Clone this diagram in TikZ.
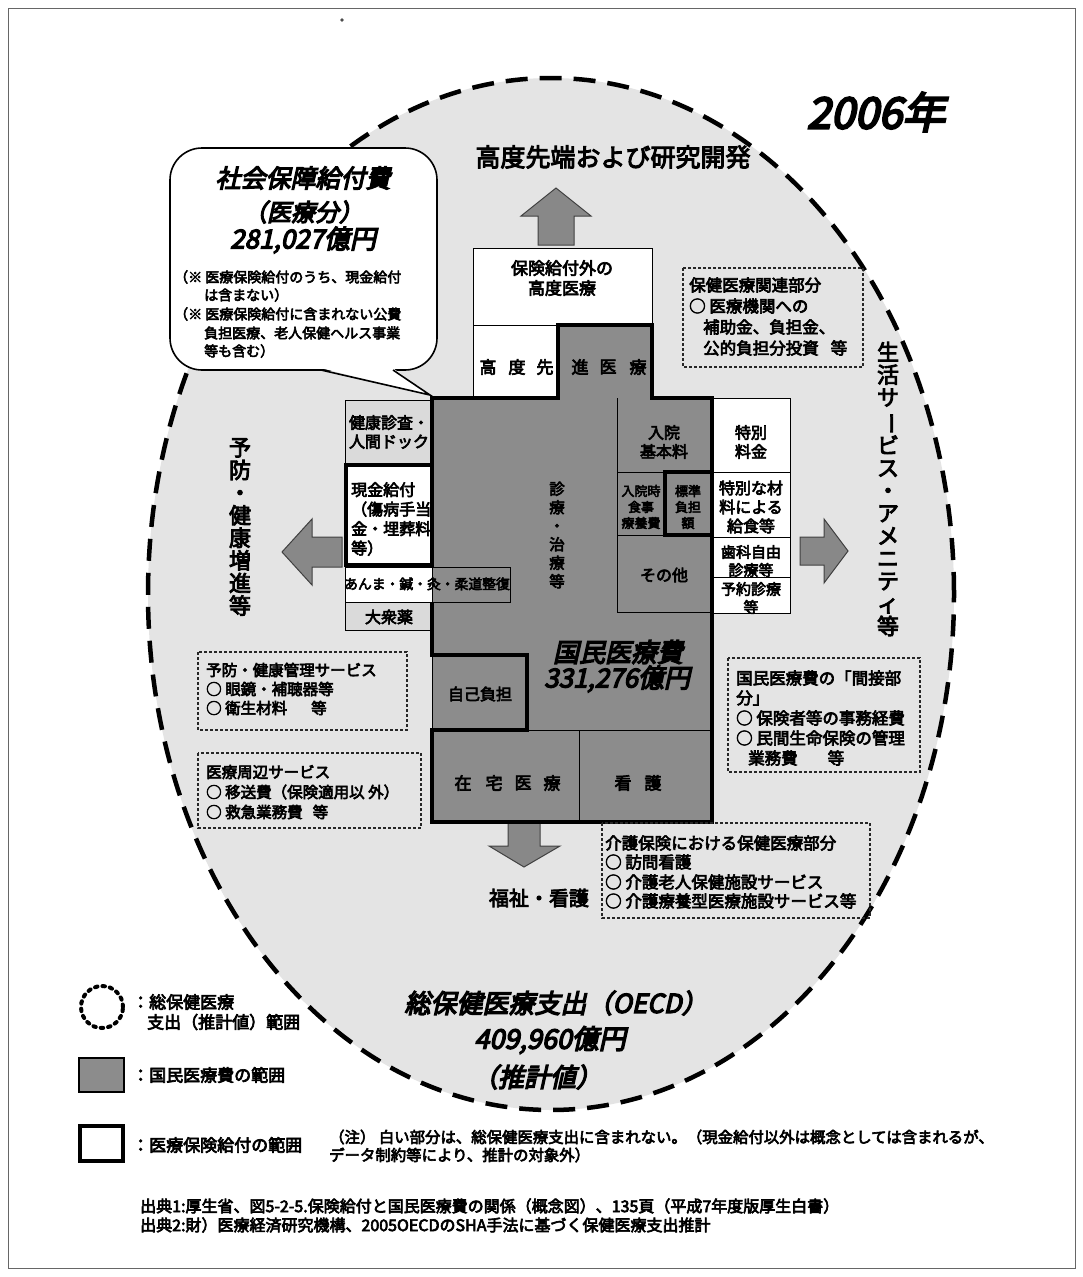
\documentclass[tikz,border=0pt]{standalone}
\usepackage{fontspec}
\newfontfamily\jp[FakeBold=4]{Noto Sans CJK JP}
\newfontfamily\jpi[FakeSlant=0.22,FakeBold=5]{Noto Sans CJK JP}
\definecolor{dk}{HTML}{8C8C8C}
\definecolor{bg}{HTML}{E4E4E4}
\definecolor{lt}{HTML}{DADADA}
\definecolor{arr}{HTML}{888888}
\tikzset{
  thinb/.style={draw=black, line width=0.9},
  thickb/.style={draw=black, line width=3.6},
  dotbox/.style={draw=black!85, dash pattern=on 3pt off 2pt, line width=1.1},
  bigarrow/.style={fill=arr, draw=black!75, line width=1},
  bubble/.style={draw=black, line width=1.6, fill=white},
  t/.style={inner sep=0, align=center, font={\jp\fontsize{#1}{\dimexpr#1pt+3pt\relax}\selectfont}},
  tl/.style={inner sep=0, align=left, anchor=west, font={\jp\fontsize{#1}{\dimexpr#1pt+3.5pt\relax}\selectfont}},
  ti/.style={inner sep=0, align=center, font={\jpi\fontsize{#1}{\dimexpr#1pt+6pt\relax}\selectfont}},
  vt/.style={inner sep=0, align=center, font={\jp\fontsize{22}{22.6}\selectfont}},
}
\begin{document}
\begin{tikzpicture}[x=1pt,y=-1pt]
\useasboundingbox (0,0) rectangle (1082,1277);
\fill[white] (0,0) rectangle (1082,1277);
\draw[black!60, line width=0.8] (8,8) rectangle (1075,1268);
\fill[black!70] (342,20) circle[radius=1.8pt];

% ellipse (total health expenditure)
\fill[bg] (551,594) ellipse [x radius=403pt, y radius=516pt];
\draw[black, line width=4.5, dash pattern=on 22pt off 12pt] (551,594) ellipse [x radius=403pt, y radius=516pt];

% speech bubble
\draw[bubble, rounded corners=32] (170,148) rectangle (437,370);
\fill[white] (321,368.2) -- (430,395) -- (393,368.2) -- cycle;
\draw[black, line width=1.6, line join=miter] (321,370) -- (430,395) -- (393,370);
\node[ti=25] (b1) at (303,178) {社会保障給付費};
\node[ti=24] (b2) at (303,212) {（医療分）};
\node[ti=26] (b3) at (303,240) {281,027億円};
\node[tl=14] (b4) at (174,277) {（※ 医療保険給付のうち、現金給付};
\node[tl=14] (b5) at (204,295) {は含まない）};
\node[tl=14] (b6) at (174,314) {（※ 医療保険給付に含まれない公費};
\node[tl=14] (b7) at (204,333) {負担医療、老人保健ヘルス事業};
\node[tl=14] (b8) at (204,351) {等も含む）};

% year
\node[ti=43] (yr) at (876,112) {2006年};

% big arrows
\filldraw[bigarrow] (556,188) -- (591,216) -- (574,216) -- (574,245) -- (538,245) -- (538,216) -- (521,216) -- cycle;
\filldraw[bigarrow] (282,552) -- (312,519) -- (312,537) -- (342,537) -- (342,567) -- (312,567) -- (312,585) -- cycle;
\filldraw[bigarrow] (848,551) -- (824,519) -- (824,537) -- (800,537) -- (800,565) -- (824,565) -- (824,583) -- cycle;
\filldraw[bigarrow] (524,867) -- (489,846) -- (508,846) -- (508,823) -- (540,823) -- (540,846) -- (560,846) -- cycle;

\node[t=25] (up) at (613,157) {高度先端および研究開発};
\node[t=20] (dn) at (539,898) {福祉・看護};
\node[vt] (lf) at (240,527) {予\\防\\・\\健\\康\\増\\進\\等};
\node[vt] (rt) at (888,489) {生\\活\\サ\\\rotatebox[origin=c]{-90}{ー}\\ビ\\ス\\・\\ア\\メ\\ニ\\テ\\ィ\\等};

% top boxes
\filldraw[thinb, fill=white] (473,248) rectangle (652,325);
\filldraw[thinb, fill=white] (473,325) rectangle (558,398);
\node[t=17] (k1) at (562,278) {保険給付外の\\高度医療};

% main block fill
\fill[dk] (558,325) rectangle (652,398);
\fill[dk] (432,398) rectangle (712,822);

% left column
\filldraw[thinb, fill=lt] (345,400) rectangle (432,463);
\filldraw[thickb, fill=white] (346,465) rectangle (432,565);
\filldraw[thinb, fill=white] (345,567) rectangle (432,602);
\draw[thinb] (432,567) rectangle (510,602);
\filldraw[thinb, fill=lt] (345,602) rectangle (432,630);

% right column
\filldraw[thinb, fill=white] (712,398) rectangle (790,472);
\filldraw[thinb, fill=white] (712,472) rectangle (790,537);
\filldraw[thinb, fill=white] (712,537) rectangle (790,577);
\filldraw[thinb, fill=white] (712,577) rectangle (790,613);

% inner thin lines
\draw[thinb] (617,398) -- (617,612) -- (712,612);
\draw[thinb] (617,472) -- (665,472);
\draw[thinb] (617,535) -- (665,535);
\draw[thinb] (432,655) -- (432,730);
\draw[thinb] (527,730) -- (712,730);
\draw[thinb] (579,730) -- (579,822);

% thick insurance border
\draw[thickb, line join=miter] (432,567) -- (432,398) -- (558,398) -- (558,325) -- (652,325) -- (652,398) -- (712,398) -- (712,822) -- (432,822) -- (432,730) -- (527,730) -- (527,655) -- (432,655) -- (432,602);
\draw[thickb] (665,472) rectangle (712,535);

% texts of boxes
\node[t=17] (k2) at (488,367) {高}; \node[t=17] (k3) at (517,367) {度}; \node[t=17] (k4) at (545,367) {先};
\node[t=17] (k5) at (580,367) {進}; \node[t=17] (k6) at (608,367) {医}; \node[t=17] (k7) at (638,367) {療};
\node[t=16] (l1) at (389,432) {健康診査・\\人間ドック};
\node[tl=16] (l2) at (351,519) {現金給付\\（傷病手当\\金・埋葬料\\等）};
\node[t=13.8] (l3) at (427,584) {あんま・鍼・灸・柔道整復};
\node[t=16] (l4) at (389,617) {大衆薬};
\node[t=15.5] (m1) at (557,535) {診\\療\\・\\治\\療\\等};
\node[t=16] (r1) at (664,442) {入院\\基本料};
\node[t=13] (r2) at (641,507) {入院時\\食事\\療養費};
\node[t=13] (r3) at (688,507) {標準\\負担\\額};
\node[t=16] (r4) at (664,575) {その他};
\node[t=16] (w1) at (751,442) {特別\\料金};
\node[t=16] (w2) at (751,507) {特別な材\\料による\\給食等};
\node[t=15] (w3) at (751,561) {歯科自由\\診療等};
\node[t=15] (w4) at (751,598) {予約診療\\等};
\node[ti=26] (m2) at (618,652) {国民医療費};
\node[ti=26] (m3) at (617,679) {331,276億円};
\node[t=16] (m4) at (480,694) {自己負担};
\node[t=17] (m5) at (463,783) {在}; \node[t=17] (m6) at (494,783) {宅}; \node[t=17] (m7) at (523,783) {医}; \node[t=17] (m8) at (552,783) {療};
\node[t=17] (m9) at (623,783) {看}; \node[t=17] (m10) at (653,783) {護};

% dotted boxes
\draw[dotbox] (683,268) rectangle (863,367);
\node[tl=16.5] (d1) at (689,285) {保健医療関連部分};
\node[tl=16.5] (d2) at (689,306) {○ 医療機関への};
\node[tl=16.5] (d3) at (703,327) {補助金、負担金、};
\node[tl=16.5] (d4) at (703,348) {公的負担分投資\hspace{12pt}等};

\draw[dotbox] (198,652) rectangle (407,730);
\node[tl=15.5] (e1) at (206,670) {予防・健康管理サービス};
\node[tl=15.5] (e2) at (206,689) {○ 眼鏡・補聴器等};
\node[tl=15.5] (e3) at (206,708) {○ 衛生材料\hspace{24pt}等};

\draw[dotbox] (198,753) rectangle (421,828);
\node[tl=15.5] (f1) at (206,772) {医療周辺サービス};
\node[tl=15.5] (f2) at (206,792) {○ 移送費（保険適用以 外）};
\node[tl=15.5] (f3) at (206,812) {○ 救急業務費\hspace{10pt}等};

\draw[dotbox] (728,658) rectangle (920,772);
\node[tl=16.5] (g1) at (736,678) {国民医療費の「間接部};
\node[tl=16.5] (g2) at (736,698) {分」};
\node[tl=16.5] (g3) at (736,718) {○ 保険者等の事務経費};
\node[tl=16.5] (g4) at (736,738) {○ 民間生命保険の管理};
\node[tl=16.5] (g5) at (748,758) {業務費\hspace{30pt}等};

\draw[dotbox] (602,823) rectangle (870,918);
\node[tl=16.5] (h1) at (605,843) {介護保険における保健医療部分};
\node[tl=16.5] (h2) at (605,862) {○ 訪問看護};
\node[tl=16.5] (h3) at (605,882) {○ 介護老人保健施設サービス};
\node[tl=16.5] (h4) at (605,901) {○ 介護療養型医療施設サービス等};

% OECD total
\node[ti=26] (o1) at (556,1003) {総保健医療支出（OECD）};
\node[ti=27] (o2) at (550,1040) {409,960億円};
\node[ti=26] (o3) at (537,1077) {（推計値）};

% legend
\draw[black, line width=4, dash pattern=on 2.5pt off 5pt, line cap=round] (102,1007) circle[radius=21pt];
\node[tl=17] (lg1) at (132,1002) {：総保健医療};
\node[tl=17] (lg2) at (147,1022) {支出（推計値）範囲};
\filldraw[fill=dk, draw=black, line width=1.2] (79,1058) rectangle (124,1092);
\node[tl=17] (lg3) at (132,1075) {：国民医療費の範囲};
\draw[black, line width=3.5] (80,1126) rectangle (123,1161);
\node[tl=17] (lg4) at (132,1145) {：医療保険給付の範囲};

% notes
\node[tl=15.4] (n1) at (329,1137) {（注） 白い部分は、総保健医療支出に含まれない。（現金給付以外は概念としては含まれるが、};
\node[tl=15.4] (n2) at (329,1155) {データ制約等により、推計の対象外）};
\node[tl=16] (s1) at (140,1206) {出典1:厚生省、図5-2-5.保険給付と国民医療費の関係（概念図）、135頁（平成7年度版厚生白書）};
\node[tl=16] (s2) at (140,1225) {出典2:財）医療経済研究機構、2005OECDのSHA手法に基づく保健医療支出推計};
\end{tikzpicture}
\end{document}
